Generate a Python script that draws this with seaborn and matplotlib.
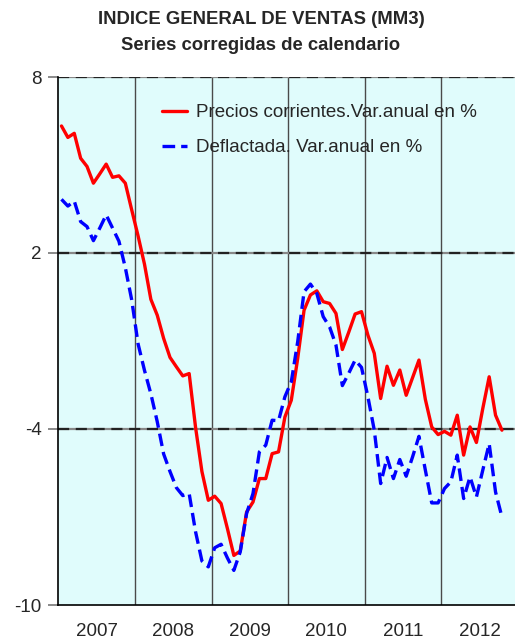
import matplotlib
matplotlib.use("Agg")
import matplotlib.pyplot as plt
import seaborn as sns
import pandas as pd
import numpy as np

# monthly data, Jan 2007 - Oct 2012
start_year = 2007
years = ["2007", "2008", "2009", "2010", "2011", "2012"]
precios = [6.33, 5.94, 6.08, 5.23, 4.95, 4.38, 4.70, 5.03, 4.58, 4.63, 4.38, 3.47,
           2.58, 1.62, 0.42, -0.12, -0.91, -1.56, -1.88, -2.19, -2.11, -3.94, -5.45, -6.43,
           -6.29, -6.54, -7.40, -8.31, -8.16, -6.83, -6.49, -5.69, -5.69, -4.84, -4.78, -3.59,
           -3.02, -1.60, 0.05, 0.57, 0.71, 0.34, 0.28, -0.06, -1.29, -0.70, -0.08, 0.00,
           -0.80, -1.42, -2.96, -1.86, -2.51, -1.99, -2.85, -2.25, -1.65, -2.99, -3.93, -4.19,
           -4.08, -4.21, -3.53, -4.89, -3.93, -4.46, -3.30, -2.22, -3.53, -4.04]
deflactada = [3.83, 3.60, 3.77, 3.07, 2.90, 2.42, 2.85, 3.30, 2.85, 2.40, 1.50, 0.40,
              -1.10, -2.00, -2.80, -3.75, -4.85, -5.45, -6.00, -6.27, -6.20, -7.50, -8.50, -8.70,
              -8.05, -7.93, -8.40, -8.82, -8.19, -6.88, -6.20, -4.78, -4.55, -3.70, -3.72, -2.90,
              -2.39, -1.03, 0.68, 0.94, 0.62, -0.17, -0.52, -1.14, -2.52, -2.10, -1.65, -1.90,
              -2.90, -4.04, -5.86, -4.97, -5.69, -5.04, -5.61, -4.95, -4.25, -5.40, -6.52, -6.52,
              -6.03, -5.80, -4.89, -6.37, -5.63, -6.32, -5.40, -4.50, -6.15, -7.00]

lab1 = "Precios corrientes.Var.anual en %"
lab2 = "Deflactada. Var.anual en %"

n = len(precios)
t = start_year + (np.arange(n) + 0.5) / 12
df = pd.DataFrame({"t": np.concatenate([t, t]),
                   "valor": precios + deflactada,
                   "serie": [lab1] * n + [lab2] * n})

sns.set_style("white")
plt.rcParams["font.family"] = ["Liberation Sans", "DejaVu Sans"]

W, H = 515, 639
fig = plt.figure(figsize=(W / 100, H / 100), dpi=100)
ax = fig.add_axes([58.3 / W, 34 / H, 459.6 / W, 528 / H])
ax.set_facecolor("#e0fcfc")

# year separators and dashed horizontal grid
for yr in range(start_year + 1, start_year + len(years)):
    ax.axvline(yr, color="#4a4a4a", lw=1.0, zorder=1)
for v in [2, -4, 8]:
    ax.axhline(v, color="#888888", lw=1.6, zorder=1)
    ax.axhline(v, color="#222222", lw=1.6, ls=(0, (5, 3)), zorder=1)

sns.lineplot(data=df, x="t", y="valor", hue="serie", style="serie",
             palette={lab1: "#ff0000", lab2: "#0000ff"},
             dashes={lab1: "", lab2: (3.8, 1.8)},
             linewidth=2.4, ax=ax, zorder=3)

ax.set_xlim(start_year, start_year + len(years))
ax.set_ylim(-10, 8)
ax.set_yticks([8, 2, -4, -10])
ax.set_yticklabels(["8", "2", "-4", "-10"], fontsize=13.5)
ax.set_xticks([start_year + i + 0.5 for i in range(len(years))])
ax.set_xticklabels(years, fontsize=13.5)
ax.tick_params(axis="x", length=0, pad=13)
ax.tick_params(axis="y", length=7, width=1.2, color="#777777", pad=5, direction="out", left=True)
ax.set_xlabel("")
ax.set_ylabel("")
for s in ["top", "right"]:
    ax.spines[s].set_visible(False)
ax.spines["left"].set_color("black")
ax.spines["left"].set_linewidth(1.2)
ax.spines["bottom"].set_color("black")
ax.spines["bottom"].set_linewidth(1.2)

fs = 13.5
ax.legend(loc="upper left", bbox_to_anchor=(162 / W, 1 - 104 / H),
          bbox_transform=fig.transFigure, frameon=False, fontsize=fs,
          handlelength=1.35, handletextpad=0.48, labelspacing=0.95,
          borderpad=0, borderaxespad=0)

fig.text(261 / W, 1 - 20 / H, "INDICE GENERAL DE VENTAS (MM3)", ha="center", va="center",
         fontsize=13.3, fontweight="bold")
fig.text(261 / W, 1 - 45 / H, "Series corregidas de calendario", ha="center", va="center",
         fontsize=13.3, fontweight="bold")

fig.savefig("out.png", dpi=100)
